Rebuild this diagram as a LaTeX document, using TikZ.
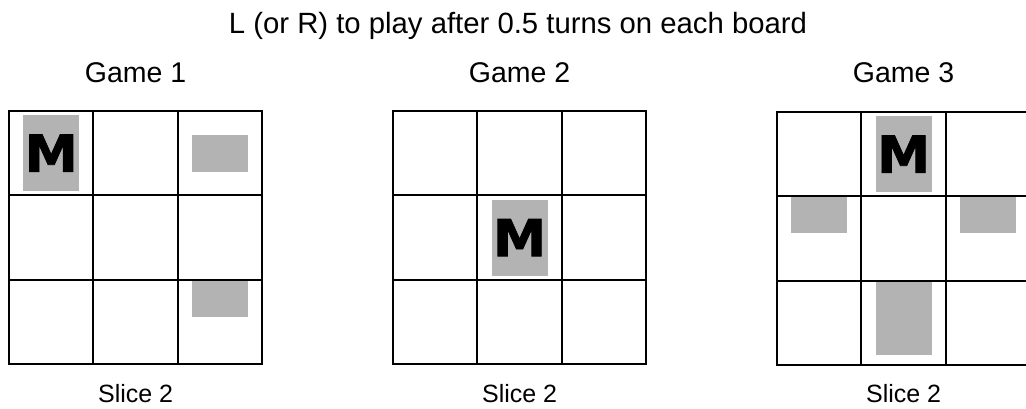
\documentclass[tikz,border=0pt]{standalone}
\usepackage{fontspec}
\setmainfont{Liberation Sans}
\newfontfamily\piecefont{DejaVu Sans}[FakeStretch=1.05,FakeBold=1.5]
\usepackage{xcolor}
\definecolor{tilegray}{HTML}{B3B3B3}
\usetikzlibrary{positioning,backgrounds}

\tikzset{
  cell/.style={draw,line width=2pt,minimum size=84.4pt,inner sep=0pt,outer sep=0pt},
  piece/.style={fill=tilegray,inner sep=0pt,outer sep=0pt,minimum width=56pt},
  tall/.style={piece,minimum height=76pt},
  flat/.style={piece,minimum height=37pt},
  mtile/.style={tall,font=\piecefont\bfseries\fontsize{51}{51}\selectfont},
  heading/.style={font=\fontsize{28.5}{32}\selectfont,anchor=base,inner sep=0pt},
  caption/.style={font=\fontsize{25}{30}\selectfont,anchor=base,inner sep=0pt}
}

\begin{document}
\begin{tikzpicture}[x=1pt,y=-1pt]
\useasboundingbox (0,0) rectangle (1026,409);
\clip (0,0) rectangle (1026,409);
\node[heading,font=\fontsize{29.3}{34}\selectfont] (title) at (518,34) {L (or R) to play after 0.5 turns on each board};
\foreach \b/\x/\y in {1/9/111,2/393/111,3/777/112}{
  \foreach \r in {0,1,2}{
    \foreach \c in {0,1,2}{
      \node[cell] (g\b-\r\c) at ({\x+(\c+0.5)*84.4},{\y+(\r+0.5)*84.4}) {};
    }
  }
  \node[heading] (game\b) at ({\x+126.6},83) {Game \b};
  \node[caption] (slice\b) at ({\x+126.6},402) {Slice 2};
}
\begin{scope}[on background layer]
\node[mtile] (m1) at (g1-00) {M};
\node[flat] (p1a) at (g1-02) {};
\node[flat,anchor=north] (p1b) at (g1-22.north) {};
\node[mtile] (m2) at (g2-11) {M};
\node[mtile] (m3) at (g3-01) {M};
\node[flat,anchor=north] (p3a) at (g3-10.north) {};
\node[flat,anchor=north] (p3b) at (g3-12.north) {};
\node[piece,minimum height=74pt,anchor=north] (p3c) at (g3-21.north) {};
\end{scope}
\end{tikzpicture}
\end{document}
